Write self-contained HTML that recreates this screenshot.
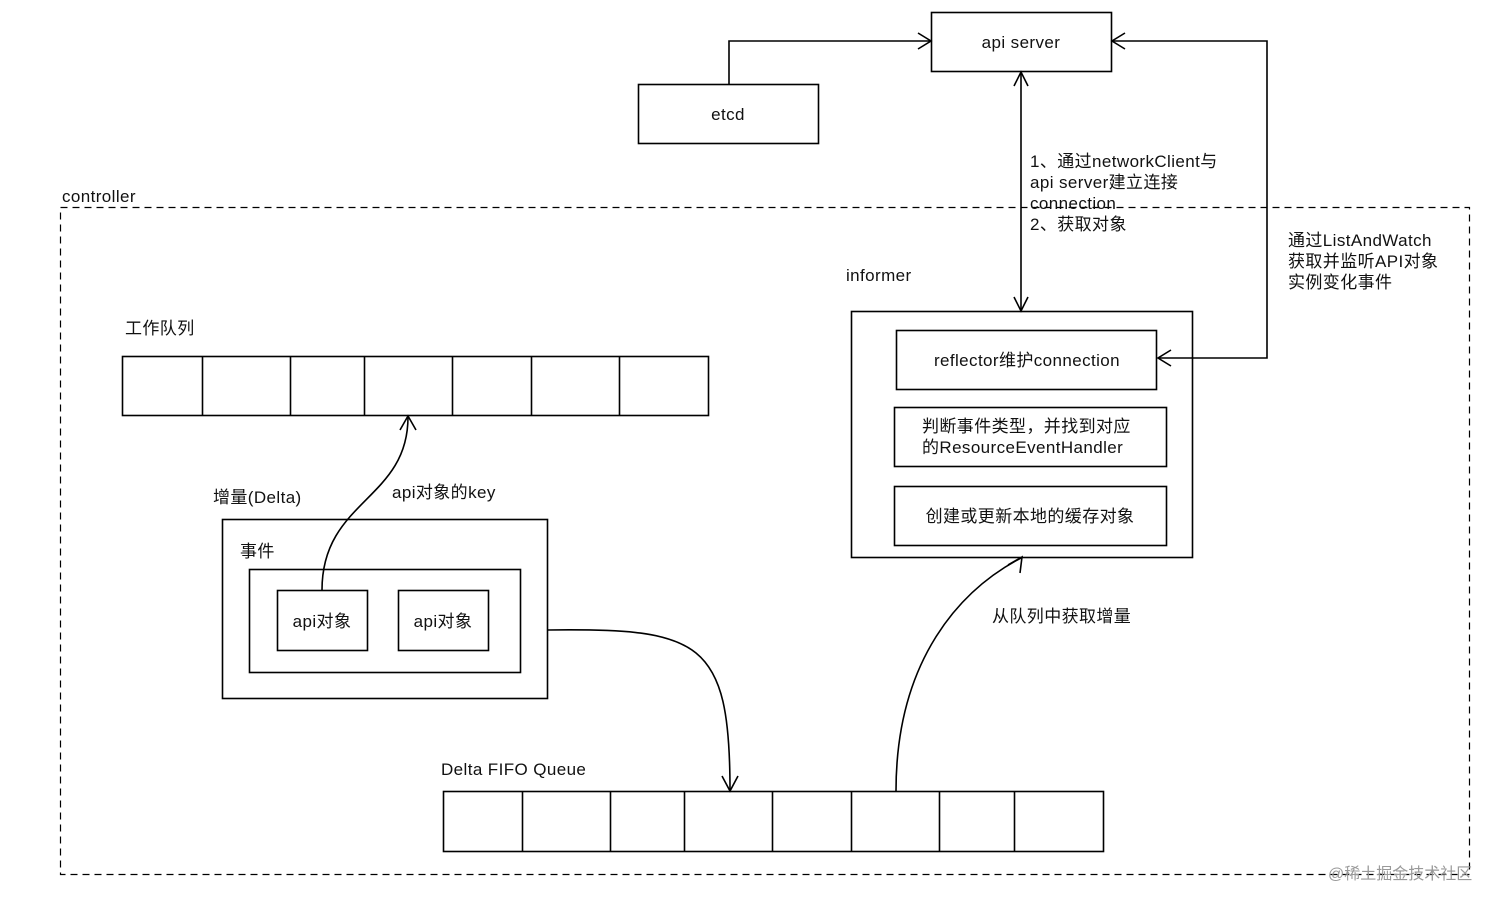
<!DOCTYPE html>
<html><head><meta charset="utf-8"><style>
html,body{margin:0;padding:0;background:#fff;}
svg{display:block}
text{font-family:"Liberation Sans","Noto Sans CJK SC",sans-serif;font-size:17px;letter-spacing:0.4px;fill:#111;}
</style></head><body>
<svg width="1512" height="907" viewBox="0 0 1512 907" xmlns="http://www.w3.org/2000/svg">
<g fill="none" stroke="#000" stroke-width="1.6">
<rect x="60.5" y="207.5" width="1409" height="667" stroke-dasharray="7,5" stroke-width="1.2"/>
<rect x="931.5" y="12.5" width="180" height="59"/>
<rect x="638.5" y="84.5" width="180" height="59"/>
<rect x="851.5" y="311.5" width="341" height="246"/>
<rect x="896.5" y="330.5" width="260" height="59"/>
<rect x="894.5" y="407.5" width="272" height="59"/>
<rect x="894.5" y="486.5" width="272" height="59"/>
<rect x="122.5" y="356.5" width="586" height="59"/>
<path d="M202.5 356v60M290.5 356v60M364.5 356v60M452.5 356v60M531.5 356v60M619.5 356v60"/>
<rect x="222.5" y="519.5" width="325" height="179"/>
<rect x="249.5" y="569.5" width="271" height="103"/>
<rect x="277.5" y="590.5" width="90" height="60"/>
<rect x="398.5" y="590.5" width="90" height="60"/>
<rect x="443.5" y="791.5" width="660" height="60"/>
<path d="M522.5 791v60M610.5 791v60M684.5 791v60M772.5 791v60M851.5 791v60M939.5 791v60M1014.5 791v60"/>
<path d="M729 84V41H930"/>
<path d="M918 33L931 41L918 49"/>
<path d="M1112 41H1267V358H1158"/>
<path d="M1125 33L1112 41L1125 49"/>
<path d="M1171 350L1158 358L1171 366"/>
<path d="M1021 73V310"/>
<path d="M1014 86L1021 72L1028 86"/>
<path d="M1014 297L1021 311L1028 297"/>
<path d="M322 590C322 500 408 500 408 417"/>
<path d="M400 430L408 416L416 430"/>
<path d="M548 630C700 628 730 640 730 790"/>
<path d="M722 776L730 791L738 776"/>
<path d="M896 791C896 660 960 590 1021 558"/>
<path d="M1008 565L1022 557L1020 573"/>
</g>
<text x="1021" y="48" text-anchor="middle">api server</text>
<text x="728" y="120" text-anchor="middle">etcd</text>
<text x="62" y="202">controller</text>
<text x="1030" y="167">1、通过networkClient与</text>
<text x="1030" y="188">api server建立连接</text>
<text x="1030" y="209">connection</text>
<text x="1030" y="230">2、获取对象</text>
<text x="1288" y="246">通过ListAndWatch</text>
<text x="1288" y="267">获取并监听API对象</text>
<text x="1288" y="288">实例变化事件</text>
<text x="846" y="281">informer</text>
<text x="1027" y="366" text-anchor="middle">reflector维护connection</text>
<text x="922" y="432">判断事件类型，并找到对应</text>
<text x="922" y="453">的ResourceEventHandler</text>
<text x="1030" y="522" text-anchor="middle">创建或更新本地的缓存对象</text>
<text x="125" y="334">工作队列</text>
<text x="213" y="503">增量(Delta)</text>
<text x="392" y="498">api对象的key</text>
<text x="240" y="557">事件</text>
<text x="322" y="627" text-anchor="middle">api对象</text>
<text x="443" y="627" text-anchor="middle">api对象</text>
<text x="992" y="622">从队列中获取增量</text>
<text x="441" y="775">Delta FIFO Queue</text>
<text x="1328" y="879" style="font-size:16px;letter-spacing:0;fill:#999">@稀土掘金技术社区</text>
</svg>
</body></html>
